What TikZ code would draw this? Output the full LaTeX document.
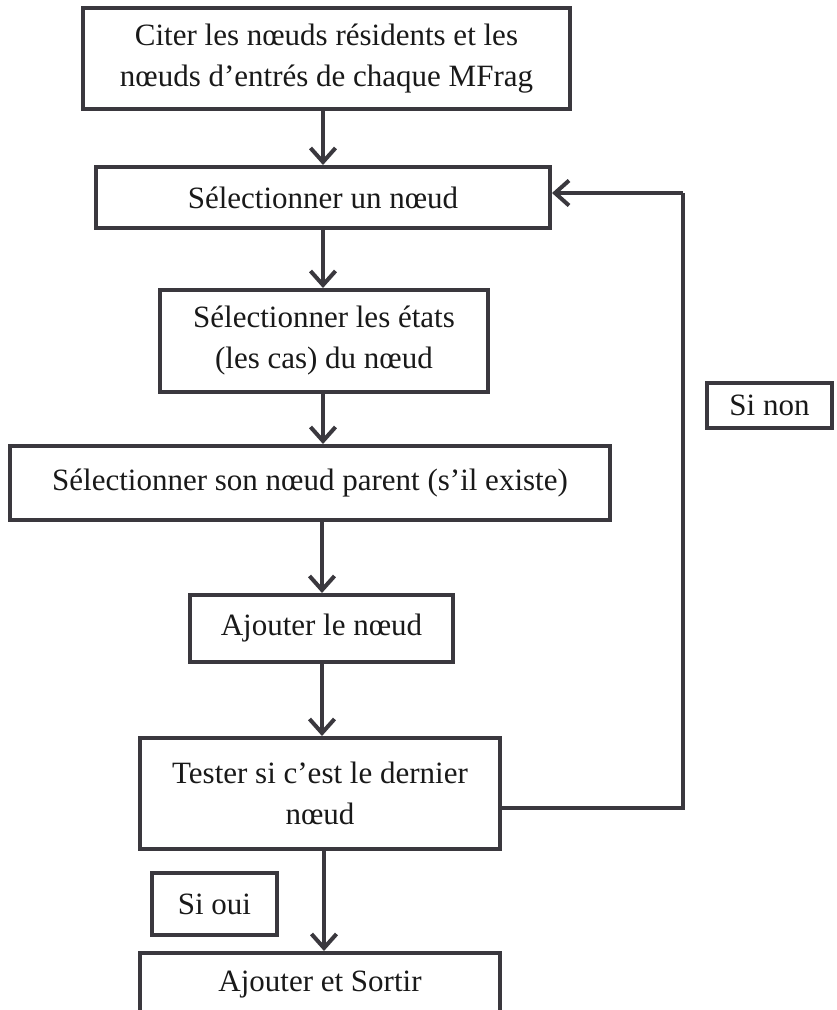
\documentclass[tikz,border=0pt]{standalone}
\usepackage{fontspec}
\setmainfont{Liberation Serif}
\usetikzlibrary{arrows.meta}
\definecolor{edge}{RGB}{58,56,62}
\definecolor{ink}{RGB}{25,25,25}
\begin{document}
\begin{tikzpicture}[x=1pt,y=-1pt,
  box/.style={draw=edge, line width=4pt, fill=white, rectangle, inner sep=0pt,
    align=center, text=ink, font=\fontsize{31}{41}\selectfont},
  arr/.style={draw=edge, line width=4pt, -{Straight Barb[length=14pt,width=25pt]}},
  link/.style={draw=edge, line width=4pt}
]
\useasboundingbox (0,0) rectangle (836,1010);
\fill[white] (0,0) rectangle (836,1010);

\node[box, minimum width=487pt, minimum height=101pt] (b1) at (326.5,58.5)
  {Citer les nœuds résidents et les\\nœuds d’entrés de chaque MFrag};
\node[box, minimum width=454pt, minimum height=61pt] (b2) at (323,197.5)
  {Sélectionner un nœud};
\node[box, minimum width=328pt, minimum height=102pt] (b3) at (324,341)
  {Sélectionner les états\\(les cas) du nœud};
\node[box, minimum width=600pt, minimum height=74pt] (b4) at (310,483)
  {Sélectionner son nœud parent (s’il existe)};
\node[box, minimum width=263pt, minimum height=67pt] (b5) at (321.5,628.5)
  {Ajouter le nœud};
\node[box, minimum width=360pt, minimum height=111pt] (b6) at (320,793.5)
  {Tester si c’est le dernier\\nœud};
\node[box, minimum width=360pt, minimum height=64pt] (b7) at (320,985)
  {Ajouter et Sortir};
\node[box, minimum width=125pt, minimum height=45pt] (non) at (769.5,405.5)
  {Si non};
\node[box, minimum width=125pt, minimum height=62pt] (oui) at (214.5,904)
  {Si oui};

\draw[arr] (b1.south -| 323,0) -- (b2.north -| 323,0);
\draw[arr] (b2.south -| 323,0) -- (b3.north -| 323,0);
\draw[arr] (b3.south -| 323,0) -- (b4.north -| 323,0);
\draw[arr] (b4.south -| 322,0) -- (b5.north -| 322,0);
\draw[arr] (b5.south -| 322,0) -- (b6.north -| 322,0);
\draw[arr] (b6.south -| 324,0) -- (b7.north -| 324,0);

\coordinate (c1) at (683,808);
\coordinate (c2) at (683,193);
\draw[link] ([yshift=-14.5pt]b6.east) -- (c1) -- (c2);
\draw[arr] (c2) -- ([yshift=4.5pt]b2.east);
\end{tikzpicture}
\end{document}
